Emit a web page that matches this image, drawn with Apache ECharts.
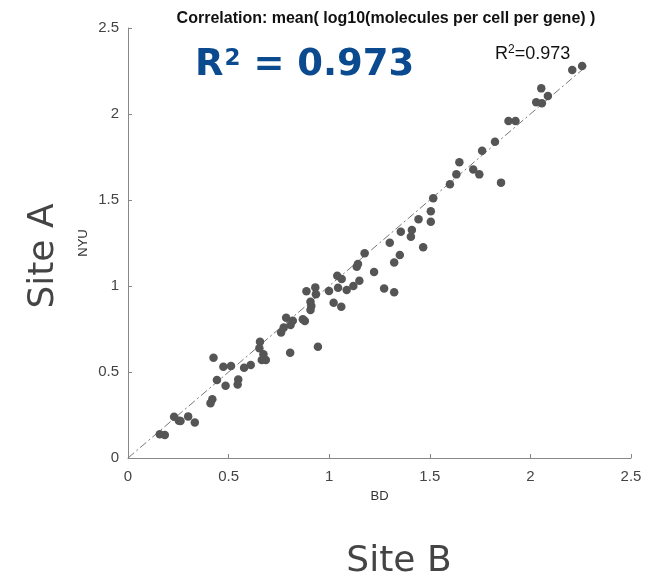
<!DOCTYPE html>
<html>
<head>
<meta charset="utf-8">
<script src="https://cdn.jsdelivr.net/npm/echarts@6/dist/echarts.min.js"></script>
<style>
  html, body { margin: 0; padding: 0; background: #fff; }
  #chart { width: 659px; height: 578px; }
</style>
</head>
<body>
<div id="chart"></div>
<script>
// BD (x) vs NYU (y) mean log10 molecules per cell per gene
const bdValues = [
  0.158, 0.183, 0.229, 0.253, 0.261, 0.299, 0.332, 0.41, 0.419, 0.425,
  0.442, 0.474, 0.512, 0.485, 0.548, 0.545, 0.577, 0.61, 0.656, 0.653,
  0.673, 0.665, 0.685, 0.761, 0.806, 0.944, 0.774, 0.786, 0.808, 0.819,
  0.869, 0.879, 0.887, 0.931, 0.934, 0.907, 0.911, 0.907, 0.999, 1.022,
  1.06, 1.044, 1.04, 1.062, 1.087, 1.12, 1.15, 1.137, 1.143, 1.176,
  1.223, 1.273, 1.323, 1.301, 1.323, 1.351, 1.356, 1.406, 1.411, 1.467,
  1.444, 1.505, 1.505, 1.517, 1.6, 1.632, 1.647, 1.716, 1.746, 1.854,
  1.76, 1.824, 1.891, 1.926, 2.054, 2.087, 2.029, 2.057, 2.208, 2.257
];
const nyuValues = [
  0.138, 0.134, 0.24, 0.217, 0.215, 0.242, 0.207, 0.318, 0.341, 0.583,
  0.453, 0.531, 0.535, 0.42, 0.457, 0.428, 0.525, 0.541, 0.676, 0.638,
  0.603, 0.57, 0.57, 0.729, 0.612, 0.647, 0.758, 0.816, 0.773, 0.798,
  0.806, 0.796, 0.969, 0.992, 0.952, 0.909, 0.884, 0.86, 0.971, 0.903,
  0.88, 0.99, 1.06, 1.041, 0.977, 1.0, 1.031, 1.112, 1.128, 1.19,
  1.081, 0.986, 0.963, 1.252, 1.136, 1.18, 1.316, 1.287, 1.326, 1.225,
  1.388, 1.374, 1.434, 1.51, 1.591, 1.649, 1.719, 1.678, 1.649, 1.601,
  1.787, 1.839, 1.959, 1.959, 2.149, 2.105, 2.068, 2.062, 2.256, 2.279
];
// fitted line end points
const fitLine = [[0, 0], [2.28, 2.28]];
const tickLabels = ["0", "0.5", "1", "1.5", "2", "2.5"];

const points = bdValues.map((x, i) => [x, nyuValues[i]]);
const chart = echarts.init(document.getElementById("chart"));

const axisCommon = {
  type: "value",
  min: 0,
  max: 2.5,
  interval: 0.5,
  splitLine: { show: false },
  axisLine: { show: true, onZero: false, lineStyle: { color: "#888", width: 1 } },
  axisTick: { show: true, inside: true, length: 4, lineStyle: { color: "#888" } },
  axisLabel: {
    color: "#444",
    fontSize: 15,
    fontFamily: "Liberation Sans",
    formatter: (v) => tickLabels[Math.round(v / 0.5)]
  },
  nameTextStyle: { color: "#333", fontSize: 13, fontFamily: "Liberation Sans" }
};

const option = {
  animation: false,
  backgroundColor: "#fff",
  grid: { left: 128, right: 28, top: 28, bottom: 120 },
  xAxis: Object.assign({}, axisCommon, {
    name: "BD",
    nameLocation: "middle",
    nameGap: 32,
    axisLabel: Object.assign({}, axisCommon.axisLabel, { margin: 11 })
  }),
  yAxis: Object.assign({}, axisCommon, {
    name: "NYU",
    nameLocation: "middle",
    nameRotate: 90,
    nameGap: 38,
    nameMoveOverlap: false,
    axisLabel: Object.assign({}, axisCommon.axisLabel, { margin: 9 })
  }),
  title: [
    {
      text: "Correlation: mean( log10(molecules per cell per gene) )",
      left: 381,
      top: 6,
      textAlign: "center",
      textStyle: { fontSize: 16, fontWeight: "bold", color: "#111", fontFamily: "Liberation Sans" }
    },
    {
      text: "{a|R}{s|2}{a| = 0.973}",
      left: 190,
      top: 38,
      textStyle: {
        rich: {
          a: { fontSize: 37, lineHeight: 44, fontWeight: "bold", color: "#0b4a8f", fontFamily: "DejaVu Sans" },
          s: { fontSize: 23, lineHeight: 23, fontWeight: "bold", color: "#0b4a8f", fontFamily: "DejaVu Sans",
               verticalAlign: "top", padding: [5, 0, 0, 1] }
        }
      }
    },
    {
      text: "{a|R}{s|2}{a|=0.973}",
      left: 490,
      top: 38,
      textStyle: {
        fontWeight: "normal",
        rich: {
          a: { fontSize: 18, lineHeight: 22, fontWeight: "normal", color: "#111", fontFamily: "Liberation Sans" },
          s: { fontSize: 12, lineHeight: 12, fontWeight: "normal", color: "#111", fontFamily: "Liberation Sans",
               verticalAlign: "top", padding: [1, 0, 0, 0] }
        }
      }
    },
    {
      text: "Site B",
      left: 394,
      top: 539,
      textAlign: "center",
      textStyle: { fontSize: 36, fontWeight: "normal", color: "#444", fontFamily: "DejaVu Sans" }
    }
  ],
  graphic: [
    {
      type: "text",
      x: 44,
      y: 256,
      rotation: Math.PI / 2,
      style: {
        text: "Site A",
        fill: "#444",
        font: "36px 'DejaVu Sans'",
        align: "center",
        verticalAlign: "middle"
      }
    }
  ],
  series: [
    {
      type: "line",
      data: fitLine,
      showSymbol: false,
      silent: true,
      lineStyle: { color: "#777", width: 1, type: [8, 3, 2, 3] },
      z: 1
    },
    {
      type: "scatter",
      data: points,
      symbolSize: 8.5,
      itemStyle: { color: "#555", opacity: 1 },
      z: 2
    }
  ]
};

chart.setOption(option);
</script>
</body>
</html>
